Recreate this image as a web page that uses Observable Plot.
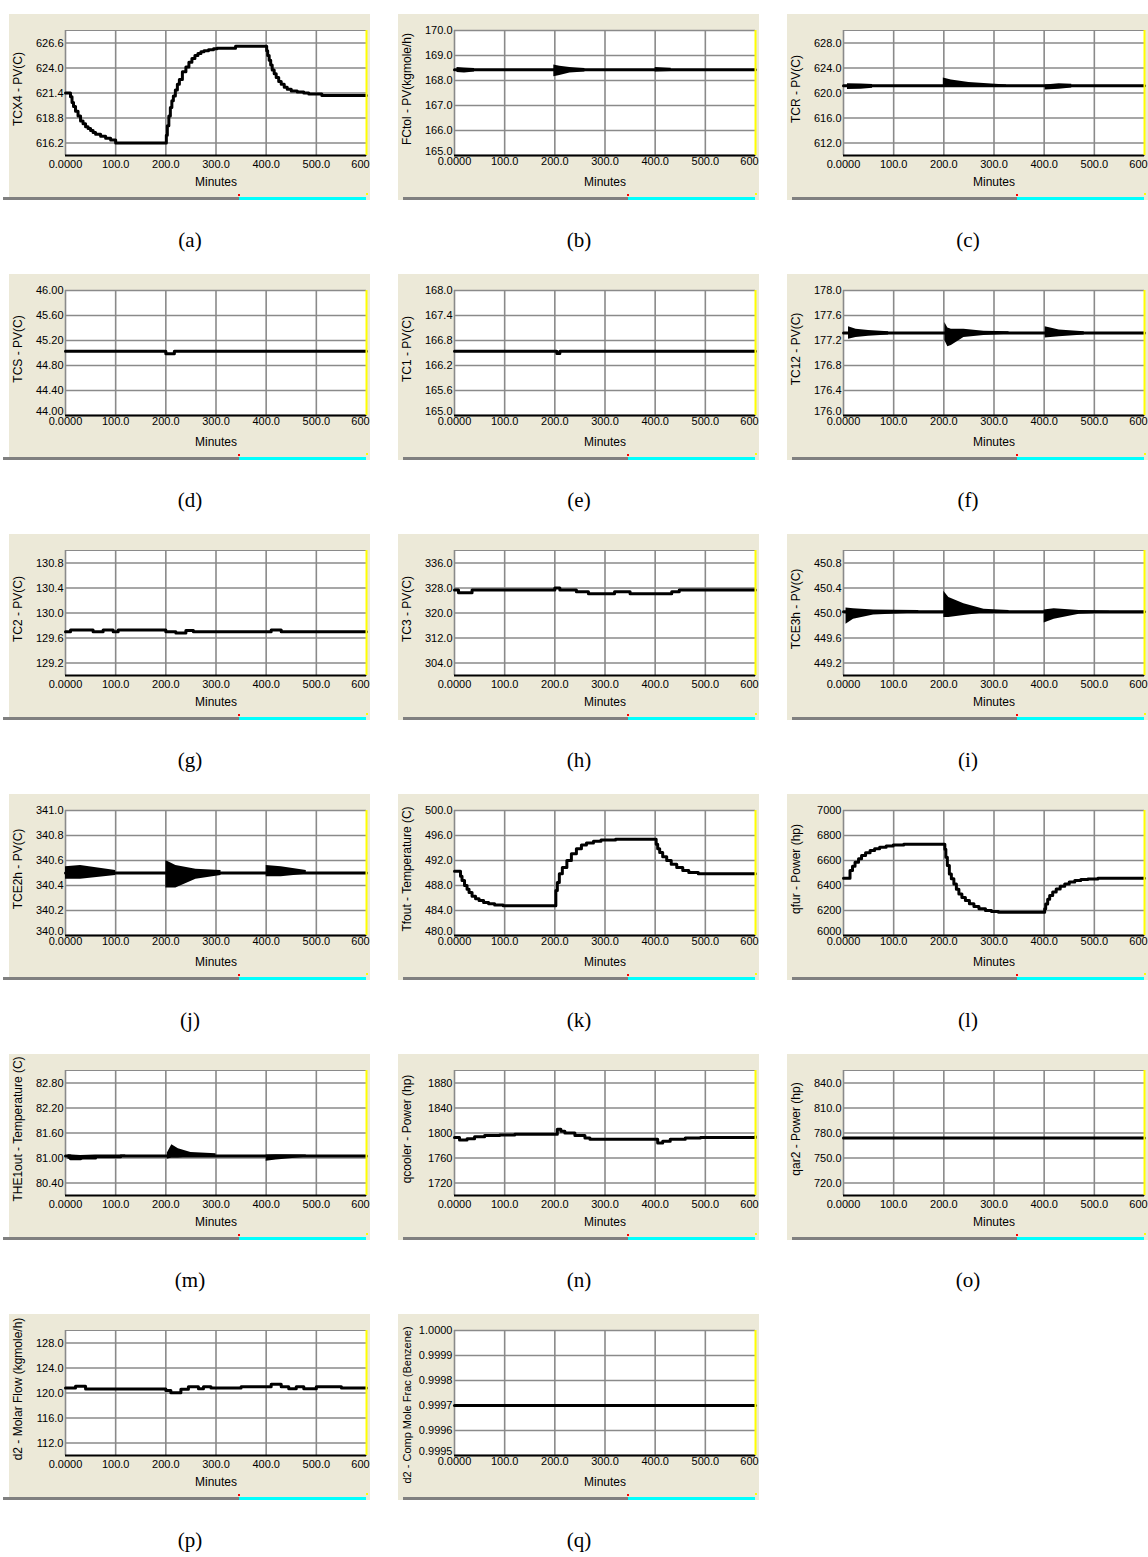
<!DOCTYPE html>
<html><head><meta charset="utf-8">
<script src="https://cdn.jsdelivr.net/npm/d3@7"></script>
<script src="https://cdn.jsdelivr.net/npm/@observablehq/plot@0.6"></script>
<style>
body{margin:0;background:#fff;}
#page{position:relative;width:1148px;height:1557px;overflow:hidden;background:#fff;}
.panel{position:absolute;width:361px;height:186px;}
.panel svg{display:block;}
.cap{position:absolute;font-family:"Liberation Serif","Times New Roman",serif;font-size:21px;transform:translate(-50%,-50%);color:#000;}
.bar{position:absolute;height:3px;}
</style></head><body><div id="page"></div>
<script>
// ---- shared axis values ----
const minuteTicks = [0, 100, 200, 300, 400, 500];
const minuteEnd = [600];
const minuteGrid = [0, 100, 200, 300, 400, 500];
const panelIds = ["a","b","c","d","e","f","g","h","i","j","k","l","m","n","o","p","q"];
const yLabels = ["TCX4 - PV(C)","FCtol - PV(kgmole/h)","TCR - PV(C)","TCS - PV(C)","TC1 - PV(C)","TC12 - PV(C)","TC2 - PV(C)","TC3 - PV(C)","TCE3h - PV(C)","TCE2h - PV(C)","Tfout - Temperature (C)","qfur - Power (hp)","THE1out - Temperature (C)","qcooler - Power (hp)","qar2 - Power (hp)","d2 - Molar Flow (kgmole/h)","d2 - Comp Mole Frac (Benzene)"];

// ---- y tick labels ----
const aTicks=[616.2,618.8,621.4,624.0,626.6];
const bTicks=[165,166,167,168,169,170];
const cTicks=[612,616,620,624,628];
const dTicks=[44,44.4,44.8,45.2,45.6,46];
const eTicks=[165,165.6,166.2,166.8,167.4,168];
const fTicks=[176,176.4,176.8,177.2,177.6,178];
const gTicks=[129.2,129.6,130,130.4,130.8];
const hTicks=[304,312,320,328,336];
const iTicks=[449.2,449.6,450,450.4,450.8];
const jTicks=[340,340.2,340.4,340.6,340.8,341];
const kTicks=[480,484,488,492,496,500];
const lTicks=[6000,6200,6400,6600,6800,7000];
const mTicks=[80.4,81,81.6,82.2,82.8];
const nTicks=[1720,1760,1800,1840,1880];
const oTicks=[720,750,780,810,840];
const pTicks=[112,116,120,124,128];
const qTicks=[0.9995,0.9996,0.9997,0.9998,0.9999,1];

// ---- y domains ----
const aDomain=[614.9,627.9], bDomain=[165,170], cDomain=[610,630], dDomain=[44,46], eDomain=[165,168], fDomain=[176,178];
const gDomain=[129,131], hDomain=[300,340], iDomain=[449,451], jDomain=[340,341], kDomain=[480,500], lDomain=[6000,7000];
const mDomain=[80.1,83.1], nDomain=[1700,1900], oDomain=[705,855], pDomain=[110,130], qDomain=[0.9995,1];

// ---- series [minute, value] ----
const seriesA=[[0,621.4],[8,621.4],[10,621.0],[13,620.4],[16,620.0],[20,619.5],[25,619.0],[30,618.5],[35,618.2],[40,617.9],[45,617.7],[50,617.5],[55,617.3],[60,617.1],[70,616.9],[80,616.7],[90,616.5],[100,616.2],[200,616.2],[201,617.0],[203,618.0],[206,619.0],[209,619.9],[212,620.6],[215,621.1],[219,621.7],[223,622.3],[227,622.8],[233,623.6],[240,624.1],[246,624.6],[252,625.0],[258,625.3],[264,625.5],[270,625.7],[276,625.8],[285,625.9],[295,626.0],[302,626.05],[339,626.25],[399,626.25],[401,625.8],[403,625.3],[406,624.8],[409,624.3],[412,623.8],[416,623.4],[420,623.0],[425,622.6],[430,622.3],[436,622.0],[442,621.8],[450,621.6],[462,621.5],[475,621.4],[485,621.3],[511,621.15],[600,621.15]];
const seriesB=[[0,168.43],[600,168.43]];
const seriesC=[[0,621.15],[600,621.15]];
const seriesD=[[0,45.03],[200,44.99],[217,45.03],[600,45.03]];
const seriesE=[[0,166.54],[204,166.49],[210,166.54],[600,166.54]];
const seriesF=[[0,177.32],[600,177.32]];
const seriesG=[[0,129.70],[10,129.73],[55,129.70],[75,129.73],[95,129.70],[105,129.73],[200,129.70],[220,129.68],[240,129.72],[255,129.70],[410,129.73],[430,129.70],[600,129.70]];
const seriesH=[[0,327.4],[8,326.5],[35,327.4],[200,328.0],[210,327.4],[243,326.8],[267,326.2],[319,326.8],[350,326.2],[433,326.8],[448,327.4],[600,327.4]];
const seriesI=[[0,450.02],[600,450.02]];
const seriesJ=[[0,340.5],[600,340.5]];
const seriesK=[[0,490.3],[10,490.3],[12,489.5],[15,488.8],[20,488.0],[25,487.4],[29,486.9],[35,486.3],[42,485.9],[49,485.6],[58,485.3],[68,485.1],[80,484.9],[97,484.75],[200,484.75],[202,487.2],[205,488.5],[209,489.9],[215,490.9],[224,492.0],[233,493.1],[243,493.9],[253,494.5],[263,494.8],[277,495.1],[292,495.3],[321,495.4],[399,495.4],[402,494.6],[405,493.9],[409,493.3],[415,492.6],[423,492.0],[432,491.4],[443,490.9],[455,490.4],[467,490.1],[486,489.9],[600,489.9]];
const seriesL=[[0,6458],[10,6458],[13,6520],[18,6555],[23,6587],[30,6615],[36,6640],[44,6662],[53,6680],[62,6695],[72,6707],[85,6717],[99,6725],[120,6730],[200,6730],[202,6690],[204,6627],[207,6560],[211,6493],[215,6455],[220,6413],[225,6370],[230,6333],[236,6305],[243,6280],[251,6255],[260,6232],[270,6215],[283,6200],[295,6192],[309,6187],[400,6187],[401,6215],[403,6253],[407,6290],[411,6320],[417,6348],[424,6373],[432,6395],[441,6413],[450,6428],[461,6440],[473,6448],[487,6453],[507,6458],[600,6458]];
const seriesM=[[0,81.05],[10,80.98],[30,81.0],[60,81.03],[110,81.05],[600,81.05]];
const seriesN=[[0,1793],[10,1789],[25,1791],[40,1794],[60,1796],[90,1797],[120,1798],[200,1798],[205,1806],[212,1803],[220,1800],[240,1796],[260,1792],[270,1790],[400,1790],[405,1784],[415,1787],[430,1790],[460,1792],[490,1793],[600,1794]];
const seriesO=[[0,774],[600,774]];
const seriesP=[[0,120.8],[20,121.1],[40,120.65],[200,120.4],[210,120.05],[230,120.6],[245,121.0],[265,120.7],[275,121.0],[290,120.8],[350,121.0],[410,121.4],[430,121.0],[445,120.7],[460,121.0],[475,120.7],[500,121.0],[550,120.8],[600,120.8]];
const seriesQ=[[0,0.9997],[600,0.9997]];

// ---- oscillation envelopes [segment, minute, low, high] ----
const bandB=[[1,5,168.32,168.52],[1,20,168.3,168.5],[1,40,168.34,168.48],[2,198,168.15,168.62],[2,210,168.2,168.57],[2,230,168.3,168.52],[2,260,168.34,168.48],[3,400,168.34,168.52],[3,432,168.36,168.49]];
const bandC=[[1,8,620.55,621.5],[1,35,620.6,621.45],[1,58,620.75,621.35],[2,199,621.0,622.4],[2,215,621.0,622.1],[2,250,621.05,621.7],[2,325,621.1,621.3],[3,402,620.5,621.3],[3,430,620.6,621.5],[3,455,620.8,621.4]];
const bandF=[[1,10,177.22,177.42],[1,25,177.25,177.38],[1,50,177.27,177.36],[1,90,177.29,177.34],[2,202,177.2,177.49],[2,208,177.1,177.4],[2,215,177.12,177.38],[2,240,177.25,177.38],[2,280,177.28,177.35],[2,330,177.3,177.34],[3,402,177.24,177.42],[3,430,177.26,177.37],[3,480,177.29,177.34]];
const bandI=[[1,5,449.82,450.08],[1,20,449.9,450.07],[1,60,449.97,450.05],[1,150,450.0,450.04],[2,200,449.93,450.35],[2,210,449.93,450.25],[2,240,449.96,450.15],[2,280,450.0,450.06],[2,330,450.01,450.04],[3,400,449.84,450.05],[3,420,449.9,450.07],[3,470,449.98,450.04],[3,530,450.0,450.03]];
const bandJ=[[1,0,340.45,340.55],[1,30,340.45,340.56],[1,100,340.48,340.52],[2,200,340.38,340.6],[2,220,340.38,340.56],[2,260,340.45,340.53],[2,310,340.48,340.52],[3,400,340.47,340.56],[3,430,340.47,340.55],[3,480,340.49,340.52]];
const bandM=[[1,5,80.97,81.08],[1,30,80.95,81.06],[1,60,81.0,81.07],[1,120,81.03,81.07],[2,203,80.97,81.12],[2,212,81.0,81.32],[2,225,81.0,81.22],[2,250,81.03,81.13],[2,300,81.04,81.1],[3,400,80.92,81.07],[3,420,80.95,81.08],[3,480,81.02,81.07]];

// ---- panel table built from the arrays above ----
const seriesList=[seriesA,seriesB,seriesC,seriesD,seriesE,seriesF,seriesG,seriesH,seriesI,seriesJ,seriesK,seriesL,seriesM,seriesN,seriesO,seriesP,seriesQ];
const tickList=[aTicks,bTicks,cTicks,dTicks,eTicks,fTicks,gTicks,hTicks,iTicks,jTicks,kTicks,lTicks,mTicks,nTicks,oTicks,pTicks,qTicks];
const domainList=[aDomain,bDomain,cDomain,dDomain,eDomain,fDomain,gDomain,hDomain,iDomain,jDomain,kDomain,lDomain,mDomain,nDomain,oDomain,pDomain,qDomain];
const bandList=[null,bandB,bandC,null,null,bandF,null,null,bandI,bandJ,null,null,bandM,null,null,null,null];
const decimals=[1,1,1,2,1,1,1,1,1,1,1,0,2,0,1,1,4];

const colLeft=[9,398,787];
const rowTop=[0,260,520,780,1040,1300];
const barStart=[-6,5,5];
const page=document.getElementById("page");
const GRID="#8a8a8a";
const fmtMin = d => d === 0 ? "0.0000" : d.toFixed(1);

panelIds.forEach((id, k) => {
  const col = k % 3, row = Math.floor(k / 3);
  const domain = domainList[k], ticks = tickList[k];
  const edge = ticks[0] === domain[0];
  const band = bandList[k];
  const dec = decimals[k];
  const fmtY = d => d.toFixed(dec);
  const upperTicks = edge ? ticks.slice(1) : ticks;
  const xPad = edge ? 2 : 5;
  const longLabel = yLabels[k].length > 26;
  const svg = Plot.plot({
    width: 361, height: 186,
    marginLeft: 56, marginRight: 4, marginTop: 16, marginBottom: 45,
    style: {background: "#ECE9D8", overflow: "hidden", fontFamily: "'Liberation Sans', Arial, sans-serif", fontSize: "11px", color: "black"},
    x: {domain: [0, 600]},
    y: {domain: domain},
    marks: [
      Plot.frame({fill: "white", stroke: GRID}),
      Plot.gridX(minuteGrid, {stroke: GRID, strokeOpacity: 1, strokeWidth: 1.6}),
      Plot.gridY(ticks, {stroke: GRID, strokeOpacity: 1, strokeWidth: 1.6}),
      band ? Plot.areaY(band, {x: d => d[1], y1: d => d[2], y2: d => d[3], z: d => d[0], fill: "black"}) : null,
      Plot.line(seriesList[k], {x: d => d[0], y: d => d[1], curve: "step-after", stroke: "black", strokeWidth: 3}),
      Plot.ruleY([domain[0]], {stroke: "black", strokeWidth: 2}),
      Plot.ruleX([600], {stroke: "#ffff00", strokeWidth: 2}),
      Plot.axisX(minuteTicks, {tickSize: 0, tickPadding: xPad, tickFormat: fmtMin, fontSize: 11, label: null}),
      Plot.axisX(minuteEnd, {tickSize: 0, tickPadding: xPad, tickFormat: d => String(d), fontSize: 11, label: null, dx: -6}),
      Plot.axisY(upperTicks, {tickSize: 0, tickPadding: 2, tickFormat: fmtY, fontSize: 11, label: null}),
      edge ? Plot.axisY([ticks[0]], {tickSize: 0, tickPadding: 2, tickFormat: fmtY, fontSize: 11, label: null, dy: -4}) : null,
      Plot.text([yLabels[k]], {text: d => d, frameAnchor: "left", textAnchor: "middle", rotate: -90, dx: -47, dy: longLabel ? 12 : -4, fontSize: longLabel ? 11 : 12}),
      Plot.text(["Minutes"], {text: d => d, frameAnchor: "bottom", dy: 30, fontSize: 12})
    ].filter(Boolean)
  });
  const wrap = document.createElement("div");
  wrap.className = "panel";
  wrap.style.left = colLeft[col] + "px";
  wrap.style.top = (rowTop[row] + 14) + "px";
  wrap.appendChild(svg);
  // scrollbar decoration under each strip chart
  const g = document.createElement("div"); g.className = "bar";
  g.style.cssText += `left:${barStart[col]}px;top:183px;width:${230 - barStart[col]}px;background:#808080;`;
  const c = document.createElement("div"); c.className = "bar";
  c.style.cssText += `left:230px;top:183px;width:127px;background:#00ffff;`;
  const r = document.createElement("div"); r.className = "bar";
  r.style.cssText += `left:229px;top:180px;width:2px;height:2px;background:#ff0000;`;
  const y = document.createElement("div"); y.className = "bar";
  y.style.cssText += `left:357px;top:179px;width:2px;height:2px;background:#ffff00;`;
  wrap.append(g, c, r, y);
  page.appendChild(wrap);
  const cap = document.createElement("div");
  cap.className = "cap";
  cap.textContent = "(" + id + ")";
  cap.style.left = (colLeft[col] + 181) + "px";
  cap.style.top = (rowTop[row] + 240) + "px";
  page.appendChild(cap);
});
</script>
</body></html>
